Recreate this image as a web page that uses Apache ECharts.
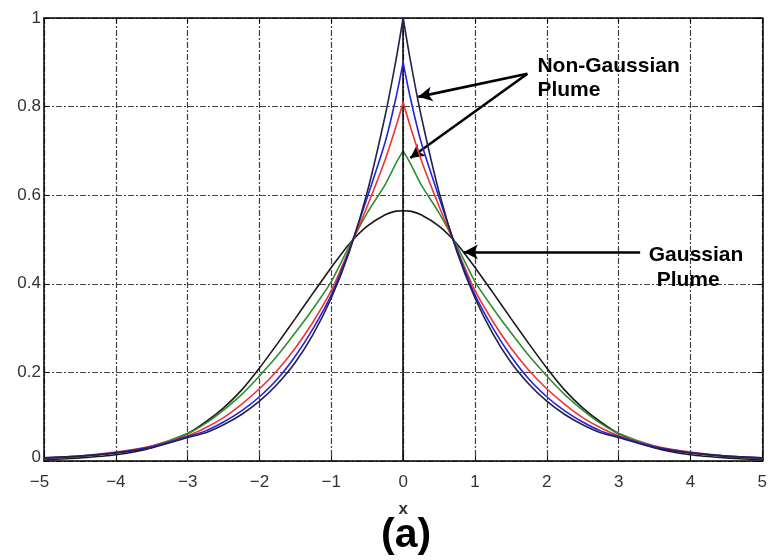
<!DOCTYPE html>
<html>
<head>
<meta charset="utf-8">
<script src="https://cdn.jsdelivr.net/npm/echarts@6/dist/echarts.min.js"></script>
<style>
html,body{margin:0;padding:0;background:#fff;}
#main{width:770px;height:560px;}
</style>
</head>
<body>
<div id="main"></div>
<script>
// ---- data ----
const xValues = [-5,-4.5,-4,-3.5,-3,-2.75,-2.5,-2.25,-2,-1.75,-1.5,-1.25,-1,-0.75,-0.5,-0.25,-0.1,0,0.1,0.25,0.5,0.75,1,1.25,1.5,1.75,2,2.25,2.5,2.75,3,3.5,4,4.5,5];
const gaussianBlack = [0.003,0.007,0.014,0.030,0.062,0.088,0.120,0.160,0.210,0.265,0.322,0.380,0.437,0.490,0.530,0.556,0.564,0.565,0.564,0.556,0.530,0.490,0.437,0.380,0.322,0.265,0.210,0.160,0.120,0.088,0.062,0.030,0.014,0.007,0.003];
const greenCurve = [0.005,0.010,0.018,0.034,0.062,0.085,0.115,0.150,0.192,0.238,0.290,0.345,0.405,0.485,0.560,0.624,0.672,0.700,0.672,0.624,0.560,0.485,0.405,0.345,0.290,0.238,0.192,0.150,0.115,0.085,0.062,0.034,0.018,0.010,0.005];
const redCurve = [0.006,0.011,0.020,0.034,0.057,0.075,0.098,0.128,0.163,0.205,0.255,0.315,0.385,0.478,0.575,0.680,0.755,0.810,0.755,0.680,0.575,0.478,0.385,0.315,0.255,0.205,0.163,0.128,0.098,0.075,0.057,0.034,0.020,0.011,0.006];
const blueCurve = [0.007,0.011,0.019,0.032,0.055,0.068,0.088,0.113,0.145,0.185,0.237,0.300,0.375,0.476,0.595,0.720,0.820,0.900,0.820,0.720,0.595,0.476,0.375,0.300,0.237,0.185,0.145,0.113,0.088,0.068,0.055,0.032,0.019,0.011,0.007];
const darkCurve = [0.007,0.011,0.018,0.030,0.053,0.064,0.082,0.105,0.135,0.174,0.223,0.287,0.368,0.472,0.607,0.780,0.905,1.000,0.905,0.780,0.607,0.472,0.368,0.287,0.223,0.174,0.135,0.105,0.082,0.064,0.053,0.030,0.018,0.011,0.007];
const xTicks = [-5,-4,-3,-2,-1,0,1,2,3,4,5];
const yTicks = [0,0.2,0.4,0.6,0.8,1];
// annotation arrows (data coordinates): [from, to]
const arrowNonGauss1 = [[1.73,0.874],[0.21,0.822]];
const arrowNonGauss2 = [[1.73,0.874],[0.10,0.684]];
const arrowGauss = [[3.30,0.472],[0.845,0.472]];
const centreLine = [[0,0],[0,1]];
// annotation texts: [text, x, y]
const notes = [['Non-Gaussian',1.87,0.892],['Plume',1.87,0.837],['Gaussian',3.42,0.465],['Plume',3.53,0.409]];
const caption = '(a)';
const xName = 'x';

const FONT = '"Liberation Sans", Arial, sans-serif';
const chart = echarts.init(document.getElementById('main'), null, {renderer:'canvas'});
const pairs = arr => xValues.map((x,i)=>[x,arr[i]]);
const peakIdx = xValues.indexOf(0);
const gridDash = {color:'#2e2e2e', width:1.2, type:[6,2,2,2], opacity:0.9};
const lbl = {fontFamily:FONT, fontSize:17, color:'#333'};

const seriesDefs = [
  {name:'Gaussian', data:gaussianBlack, color:'#1a1a1a', whole:true},
  {name:'g', data:greenCurve, color:'#2f8f2f'},
  {name:'r', data:redCurve, color:'#ee3535'},
  {name:'b', data:blueCurve, color:'#2424dd'},
  {name:'k', data:darkCurve, color:'#22224a'}
];

const arrowItem = a => [{coord:a[0], symbol:'none'},{coord:a[1], symbol:'arrow', symbolSize:[11,14]}];

const series = [];
seriesDefs.forEach((s,i)=>{
  const all = pairs(s.data);
  const parts = s.whole ? [all] : [all.slice(0, peakIdx+1), all.slice(peakIdx)];
  parts.forEach(part=>{
    series.push({
      type:'line', name:s.name, data:part, showSymbol:false, symbol:'none',
      smooth:0.25, lineStyle:{color:s.color, width:1.6}, z:3+i, silent:true
    });
  });
});
series[0].markLine = {
  silent:true, animation:false, symbol:['none','none'], label:{show:false},
  lineStyle:{color:'#000', width:2.6, type:'solid'},
  emphasis:{disabled:true},
  data:[
    [{coord:centreLine[0], symbol:'none', lineStyle:{width:1.5}},{coord:centreLine[1], symbol:'none'}],
    arrowItem(arrowNonGauss1),
    arrowItem(arrowNonGauss2),
    arrowItem(arrowGauss)
  ]
};

chart.setOption({
  animation:false,
  backgroundColor:'#fff',
  grid:{left:44, right:4, top:18, bottom:99, containLabel:false},
  xAxis:[{
    type:'value', min:-5, max:5, interval:1,
    name:xName, nameLocation:'middle', nameGap:40,
    nameTextStyle:{fontFamily:FONT, fontSize:17, color:'#333', fontWeight:'bold'},
    axisLine:{show:true, onZero:false, lineStyle:{color:'#000', width:1.5}},
    axisTick:{show:true, inside:true, length:5, lineStyle:{color:'#000'}},
    axisLabel:Object.assign({margin:13, formatter:v=> v===-5 ? '{l|−5}' : String(v).replace('-','−'),
      rich:{l:Object.assign({padding:[0,9,0,0]},lbl)}}, lbl),
    splitLine:{show:true, lineStyle:gridDash}
  },{
    type:'value', min:-5, max:5, interval:1, position:'top',
    axisLine:{show:true, onZero:false, lineStyle:{color:'#000', width:1.5}},
    axisTick:{show:true, inside:true, length:5, lineStyle:{color:'#000'}},
    axisLabel:{show:false}, splitLine:{show:false}
  }],
  yAxis:[{
    type:'value', min:0, max:1, interval:0.2,
    axisLine:{show:true, onZero:false, lineStyle:{color:'#000', width:1.5}},
    axisTick:{show:true, inside:true, length:5, lineStyle:{color:'#000'}},
    axisLabel:Object.assign({margin:3, formatter:v=> v===0 ? '{z|0}' : String(+v.toFixed(1)),
      rich:{z:Object.assign({padding:[0,0,8,0]},lbl)}}, lbl),
    splitLine:{show:true, lineStyle:gridDash}
  },{
    type:'value', min:0, max:1, interval:0.2, position:'right',
    axisLine:{show:true, onZero:false, lineStyle:{color:'#000', width:1.5}},
    axisTick:{show:true, inside:true, length:5, lineStyle:{color:'#000'}},
    axisLabel:{show:false}, splitLine:{show:false}
  }],
  series:series
});

const graphics = notes.map(n=>{
  const p = chart.convertToPixel({gridIndex:0}, [n[1], n[2]]);
  return {type:'text', x:p[0], y:p[1], z:20,
    style:{text:n[0], font:'bold 21px '+FONT, fill:'#000', textAlign:'left', textVerticalAlign:'middle'}};
});
const c0 = chart.convertToPixel({gridIndex:0}, [0, 0]);
graphics.push({type:'text', x:c0[0]+3, y:c0[1]+75, z:20,
  style:{text:caption, font:'bold 41px '+FONT, fill:'#000', textAlign:'center', textVerticalAlign:'middle'}});
chart.setOption({graphic:graphics});
</script>
</body>
</html>
